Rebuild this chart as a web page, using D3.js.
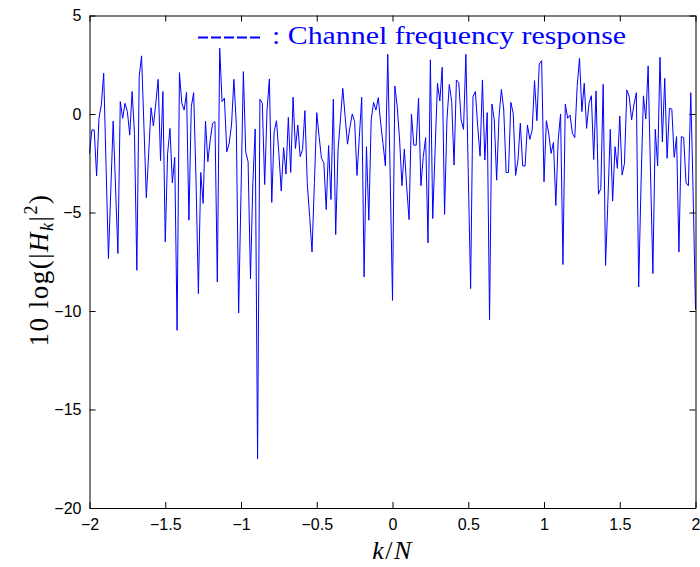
<!DOCTYPE html>
<html>
<head>
<meta charset="utf-8">
<script src="https://cdn.jsdelivr.net/npm/d3@7"></script>
<style>
  body { margin: 0; background: #fff; }
  svg { display: block; }
</style>
</head>
<body>
<div id="canvas"></div>
<script>
// sample index k runs -128..128, plotted against k/N
const N = 64;
const kIndex = d3.range(-128, 129);

// 10 log(|H_k|^2), one per sample
const gainDb = [
  -2.0, -0.81, -0.81, -3.15, -0.22, 0.46, 2.07, -2.68, -7.34, -3.86,
  -0.36, -3.7, -7.08, 0.63, -0.22, 0.54, 0.12, -1.07, 1.14, -0.98,
  -7.93, 1.9, 2.95, -0.64, -4.25, -2.0, 0.32, -0.61, 0.54, 1.76,
  -2.37, 1.14, -6.49, -2.0, -0.73, -3.49, -2.2, -10.98, 2.1, 0.54,
  0.2, 1.1, -5.39, 0.37, 1.08, -3.36, -9.12, -2.97, -4.54, -0.36,
  -2.42, -1.32, -0.47, -0.39, -8.53, 3.34, 0.63, 0.8, -1.92, -1.49,
  -0.56, 1.76, -0.47, -10.1, -4.0, 2.15, -1.92, -2.42, -8.36, -3.53,
  -0.76, -17.5, 0.75, 0.54, -3.58, 0.2, 1.78, -4.49, -0.9, -0.34,
  -2.0, -3.9, -1.71, -3.05, -0.17, -2.97, 0.85, -1.75, -0.56, -2.17,
  -1.8, 0.17, -3.53, -5.2, -7.0, -3.53, 0.07, -1.15, -2.25, -2.47,
  -4.85, -1.6, -4.34, 0.75, -6.12, -1.8, -0.3, 1.3, -0.14, -1.53,
  -0.68, 0.0, -0.39, -3.12, -1.15, 0.85, -8.27, -1.66, -5.39, -0.3,
  0.59, 0.2, 0.83, -0.45, -1.5, -2.64, 3.03, -3.0, -9.46, 1.42,
  0.37, -1.32, -3.64, -1.78, -3.7, -5.36, 0.0, -1.58, -1.58, 0.8,
  -3.64, -2.17, -1.2, -6.54, 2.75, -5.31, -1.83, 1.56, 0.66, 2.37,
  -5.1, -0.3, 1.5, 0.63, -2.59, 1.73, 1.59, -0.3, -0.78, 3.03,
  -3.0, -8.86, 0.88, 1.14, -0.64, -2.14, 1.73, -2.34, 0.07, -10.44,
  0.51, -0.3, -3.36, -0.14, 1.25, 0.2, -2.97, -2.97, 0.59, 0.03,
  -3.12, -2.34, -0.47, -2.64, -2.64, -0.56, -1.29, -0.81, 1.69, -0.34,
  2.53, 2.71, -3.44, -0.34, -0.98, -2.0, -1.44, -4.64, -1.32, 0.0,
  -7.64, 0.51, -0.22, -0.05, -0.98, -1.2, 1.39, 2.83, 0.12, 1.56,
  -0.73, 0.54, 0.93, -2.31, 1.17, -4.07, -3.78, 1.51, -7.69, -4.4,
  -0.78, -4.42, -1.66, -2.76, -0.1, -3.1, -2.51, 1.22, 0.88, -0.3,
  0.46, 1.08, -8.78, -3.5, 0.92, -0.25, 2.44, -3.0, -8.1, -0.78,
  -2.64, 2.88, -1.41, 1.81, -2.25, 0.29, 0.25, -2.2, -1.15, -7.0,
  -1.15, -1.19, -3.49, -3.64, 1.08, -4.0, -9.93
];

const xTicks = [-2, -1.5, -1, -0.5, 0, 0.5, 1, 1.5, 2];
const yTicks = [-20, -15, -10, -5, 0, 5];
const legendLabel = ": Channel frequency response";

const width = 700;
const height = 567;
const margin = { top: 15.5, left: 89.5, bottom: 59, right: 4.5 };
const iwidth = width - margin.left - margin.right;
const iheight = height - margin.top - margin.bottom;

const svg = d3.select("#canvas").append("svg")
  .attr("width", width)
  .attr("height", height);

const g = svg.append("g").attr("transform", `translate(${margin.left},${margin.top})`);

const x = d3.scaleLinear().domain([-2, 2]).range([0, iwidth]);
const y = d3.scaleLinear().domain([-20, 5]).range([iheight, 0]);

const points = kIndex.map((k, i) => ({ f: k / N, v: gainDb[i] }));

const line = d3.line().x((d) => x(d.f)).y((d) => y(d.v));

g.append("path")
  .datum(points)
  .attr("fill", "none")
  .attr("stroke", "#0000ff")
  .attr("stroke-width", 1)
  .attr("d", line);

const fmt = (d) => d3.format("")(d);

// box with inward ticks on all four sides
const styleAxis = (sel) => {
  sel.select(".domain").attr("stroke", "#000").attr("stroke-width", 1);
  sel.selectAll(".tick line").attr("stroke", "#000");
  sel.selectAll("text")
    .attr("fill", "#000")
    .style("font-family", "'Liberation Sans', Arial, sans-serif")
    .style("font-size", "16px");
};

g.append("g")
  .attr("transform", `translate(0,${iheight})`)
  .call(d3.axisBottom(x).tickValues(xTicks).tickFormat(fmt).tickSize(-6).tickSizeOuter(0).tickPadding(11))
  .call(styleAxis);

g.append("g")
  .call(d3.axisTop(x).tickValues(xTicks).tickFormat("").tickSize(-6).tickSizeOuter(0))
  .call(styleAxis);

g.append("g")
  .call(d3.axisLeft(y).tickValues(yTicks).tickFormat(fmt).tickSize(-6).tickSizeOuter(0).tickPadding(8))
  .call(styleAxis);

g.append("g")
  .attr("transform", `translate(${iwidth},0)`)
  .call(d3.axisRight(y).tickValues(yTicks).tickFormat("").tickSize(-6).tickSizeOuter(0))
  .call(styleAxis);

// legend
const serif = "'Liberation Serif', 'Times New Roman', serif";
svg.append("line")
  .attr("x1", 198).attr("x2", 262)
  .attr("y1", 37.5).attr("y2", 37.5)
  .attr("stroke", "#0000ff")
  .attr("stroke-width", 2)
  .attr("stroke-dasharray", "10,3");

svg.append("text")
  .attr("x", 272)
  .attr("y", 44)
  .attr("fill", "#0000ff")
  .attr("textLength", 354)
  .attr("lengthAdjust", "spacingAndGlyphs")
  .style("font-family", serif)
  .style("font-size", "26px")
  .text(legendLabel);

// x label
const xl = svg.append("text")
  .attr("x", margin.left + x(0))
  .attr("y", 559)
  .attr("text-anchor", "middle")
  .style("font-family", serif)
  .style("font-size", "26px")
  .style("letter-spacing", "1.5px");
xl.append("tspan").style("font-style", "italic").text("k");
xl.append("tspan").text("/");
xl.append("tspan").style("font-style", "italic").text("N");

// y label
const yl = svg.append("text")
  .attr("transform", `translate(48,270) rotate(-90)`)
  .attr("text-anchor", "middle")
  .style("font-family", serif)
  .style("font-size", "27px")
  .style("letter-spacing", "1.5px");
yl.append("tspan").text("10 log(|");
yl.append("tspan").style("font-style", "italic").text("H");
yl.append("tspan").style("font-style", "italic").style("font-size", "18px").attr("dy", 5).text("k");
yl.append("tspan").attr("dy", -5).text("|");
yl.append("tspan").style("font-size", "18px").attr("dy", -11).text("2");
yl.append("tspan").attr("dy", 11).text(")");
</script>
</body>
</html>
